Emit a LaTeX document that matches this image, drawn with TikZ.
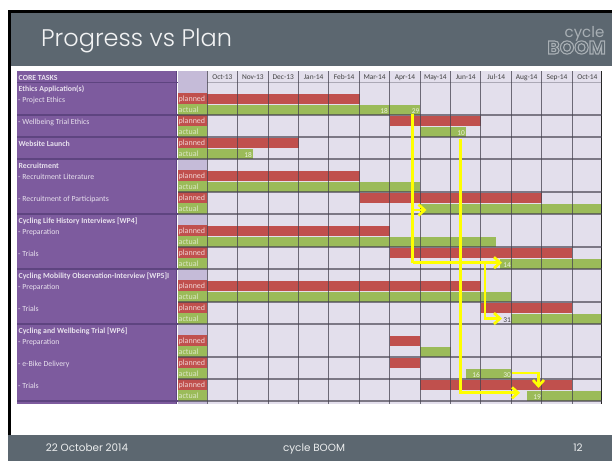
\documentclass[tikz,border=0pt]{standalone}
\usepackage{fontspec}
\setmainfont{Carlito}
\newfontfamily\slidefont{Poppins}
\newfontfamily\titlefont{Poppins Light}
\usetikzlibrary{arrows.meta}
\definecolor{slate}{HTML}{5C6770}
\definecolor{purp}{HTML}{7D5B9E}
\definecolor{purpdark}{HTML}{5E4480}
\definecolor{lilac}{HTML}{C5BBD8}
\definecolor{cellbg}{HTML}{E3DFEC}
\definecolor{barred}{HTML}{C0504D}
\definecolor{bargreen}{HTML}{9BBB59}
\definecolor{gridc}{HTML}{45424F}
\definecolor{logoc}{HTML}{A8AFB4}
\definecolor{hl}{HTML}{FFFF00}
\tikzset{
  x=1pt,y=-1pt,
  tasktext/.style={anchor=base west,inner sep=0pt,text=white!82!purp,font=\fontsize{7.8}{8}\selectfont},
  taskbold/.style={tasktext,font=\fontsize{7.8}{8}\selectfont\bfseries},
  lab/.style={anchor=base west,inner sep=0pt,font=\fontsize{8}{8}\selectfont},
  month/.style={anchor=base,inner sep=0pt,text=black!75,font=\fontsize{7.4}{8}\selectfont},
  barnum/.style={anchor=base,inner sep=0pt,text=white!80!bargreen,font=\fontsize{7.4}{8}\selectfont},
  foot/.style={anchor=base,inner sep=0pt,text=white!88!slate,font=\slidefont\fontsize{10.4}{11}\selectfont},
  yellowline/.style={draw=hl,line width=2.7pt},
  yellowarrow/.style={yellowline,-{Straight Barb[length=6pt,width=11pt,line width=2.7pt]}},
}
\begin{document}
\begin{tikzpicture}
\useasboundingbox (0,0) rectangle (612,461);
% slide
\fill[white] (0,0) rectangle (612,461);
\fill[black] (8,10) rectangle (612,435);
\fill[white] (11,66) rectangle (612,435);
\fill[slate] (11,13) rectangle (612,66);
\fill[slate] (8,435) rectangle (612,461);
\node[anchor=base west,inner sep=0pt,text=white!92!slate,font=\titlefont\fontsize{24}{26}\selectfont] (title) at (41,46) {Progress vs Plan};
\node[anchor=base east,inner sep=0pt,text=logoc,font=\slidefont\fontsize{15}{15}\selectfont] (logoa) at (604.5,37) {cycle};
\node[anchor=base east,inner sep=0pt,text=logoc,font=\slidefont\bfseries\fontsize{18.5}{15}\selectfont] (logob) at (606,54) {\special{pdf:code 1 Tr 1.1 w}BOOM\special{pdf:code 0 Tr}};
\node[foot] (fdate) at (87,451) {22 October 2014};
\node[foot] (fname) at (314,451) {cycle BOOM};
\node[foot] (fpage) at (578,451) {12};
% table background
\fill[purp] (17,71) rectangle (176.5,403.5);
\fill[cellbg] (207,71) rectangle (601.5,403.5);
\foreach \t in {71,82,159,214,269,324,401}{
  \pgfmathsetmacro{\b}{\t==71?82:(\t==401?403.5:\t+11)}
  \fill[lilac] (177.5,\t) rectangle (207,\b);
}
% planned / actual label cells
\foreach \t in {93,115,137,170,192,225,247,280,302,335,357,379}{
  \fill[barred] (177.5,\t) rectangle (207,\t+11);
  \fill[bargreen] (177.5,\t+11) rectangle (207,\t+22);
  \node[lab,text=white!75!barred] (pl\t) at (178.5,\t+8.2) {planned};
  \node[lab,text=white!65!bargreen] (ac\t) at (178.5,\t+19.2) {actual};
}
% bars: x1/x2/top
\foreach \a/\b/\t in {207/359.7/93,390/481.3/115,207/298.7/137,207/359.7/170,359.7/542.3/192,207/390/225,390/572.3/247,207/481.3/280,481.3/572.3/302,390/420.3/335,390/420.3/357,420.3/572.3/379}
  \fill[barred] (\a,\t+.7) rectangle (\b,\t+11);
\foreach \a/\b/\t in {207/420.3/104,420.3/466/126,207/253/148,207/420.3/181,420.3/601.5/203,207/496/236,500/601.5/258,207/511.3/291,511.3/601.5/313,420.3/450.7/346,466/511.3/368,527/601.5/390}
  \fill[bargreen] (\a,\t+.7) rectangle (\b,\t+11);
% grid
\foreach \i in {0,...,12}
  \draw[gridc,opacity=.75,line width=1pt] ({207.2+30.42*\i},71) -- ({207.2+30.42*\i},403.5);
\draw[black!85,line width=1pt] (601.3,71) -- (601.3,403.5);
\foreach \y in {115,137,159,192,214,247,269,302,324,357,379,401}
  \draw[gridc,opacity=.65,line width=1.1pt] (177.5,\y) -- (601.5,\y);
\draw[gridc,opacity=.35,line width=.6pt] (207,82) -- (601.5,82);
\draw[purpdark,line width=.6pt] (17,82) -- (177.5,82);
\foreach \y in {115,137,159,214,269,324,401}
  \draw[purpdark,line width=1.1pt] (17,\y) -- (177.5,\y);
\draw[purpdark,line width=1.2pt] (176.8,71) -- (176.8,403.5);
% month labels
\foreach \m [count=\i from 0] in {Oct-13,Nov-13,Dec-13,Jan-14,Feb-14,Mar-14,Apr-14,May-14,Jun-14,Jul-14,Aug-14,Sep-14,Oct-14}
  \node[month] (m\i) at ({222.4+30.42*\i},79.5) {\m};
% task labels
\node[taskbold] (h0) at (18.5,80) {CORE TASKS};
\node[taskbold] (h1) at (18.5,91) {Ethics Application(s)};
\node[tasktext] (t1) at (18,102) {- Project Ethics};
\node[tasktext] (t2) at (18,124) {- Wellbeing Trial Ethics};
\node[taskbold] (h2) at (18.5,146) {Website Launch};
\node[taskbold] (h3) at (18.5,168) {Recruitment};
\node[tasktext] (t3) at (18,179) {- Recruitment Literature};
\node[tasktext] (t4) at (18,201) {- Recruitment of Participants};
\node[taskbold] (h4) at (18.5,223) {Cycling Life History Interviews [WP4]};
\node[tasktext] (t5) at (18,234) {- Preparation};
\node[tasktext] (t6) at (18,256) {- Trials};
\node[taskbold] (h5) at (18.5,278) {Cycling Mobility Observation-Interview [WP5]I};
\node[tasktext] (t7) at (18,289) {- Preparation};
\node[tasktext] (t8) at (18,311) {- Trials};
\node[taskbold] (h6) at (18.5,333) {Cycling and Wellbeing Trial [WP6]};
\node[tasktext] (t9) at (18,344) {- Preparation};
\node[tasktext] (t10) at (18,366) {- e-Bike Delivery};
\node[tasktext] (t11) at (18,388) {- Trials};
% numbers on bars
\node[barnum] (n18a) at (384,113) {18};
\node[barnum] (n29) at (415.5,113) {29};
\node[barnum] (n10) at (461,135.5) {10};
\node[barnum] (n18b) at (248,157) {18};
\node[barnum] (n14) at (507,267) {14};
\node[barnum,text=black!75] (n31) at (507,322) {31};
\node[barnum] (n16) at (476,377) {16};
\node[barnum] (n30) at (507,377) {30};
\node[barnum] (n19) at (537,399.5) {19};
% yellow connectors
\coordinate (a0) at (412.5,114);
\coordinate (a1) at (412.5,210);
\coordinate (a2) at (426.5,210);
\coordinate (a3) at (412.5,262.7);
\coordinate (a4) at (502,262.7);
\coordinate (b0) at (460.3,139);
\coordinate (b1) at (460.3,392.8);
\coordinate (b2) at (520,392.8);
\coordinate (c0) at (485,262.7);
\coordinate (c1) at (485,318.5);
\coordinate (c2) at (502,318.5);
\coordinate (d0) at (512,373);
\coordinate (d1) at (538.5,373);
\coordinate (d2) at (538.5,388);
\draw[yellowline] (a0) -- (a3);
\draw[yellowarrow] (a1) -- (a2);
\draw[yellowarrow] (a3) -- (a4);
\draw[yellowarrow] (b0) -- (b1) -- (b2);
\draw[yellowarrow] (c0) -- (c1) -- (c2);
\draw[yellowarrow] (d0) -- (d1) -- (d2);
\end{tikzpicture}
\end{document}
